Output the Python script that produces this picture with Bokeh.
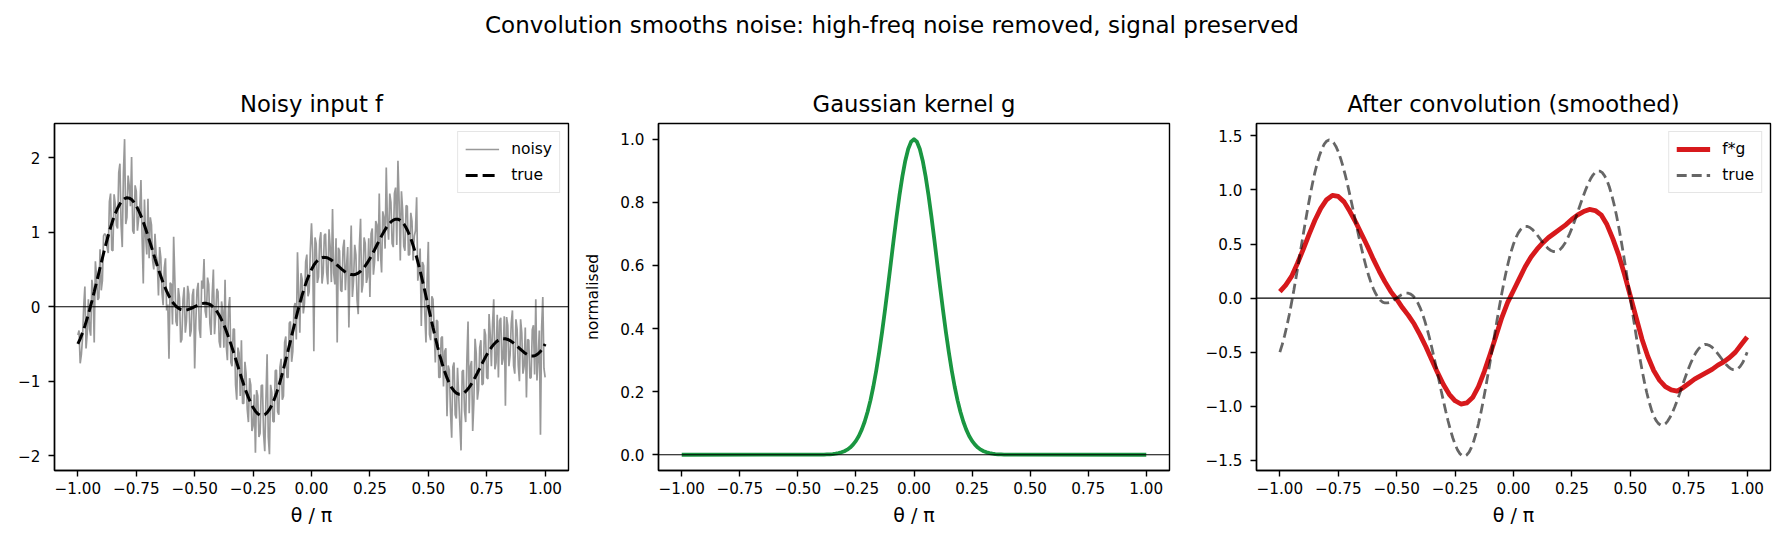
import numpy as np
from bokeh.plotting import figure
from bokeh.models import (Range1d, FixedTicker, Span, Legend, LegendItem, Div,
                          CustomJSTickFormatter)
from bokeh.layouts import row, column
from bokeh.embed import file_html
from bokeh.resources import INLINE

# ---- data (theta in units of pi) ----
theta = np.round(np.linspace(-1.0, 1.0, 201), 3)

true_signal = [
    -0.500, -0.431, -0.350, -0.258, -0.156, -0.044, 0.074, 0.199, 0.327, 0.458,
    0.588, 0.715, 0.839, 0.956, 1.065, 1.163, 1.249, 1.322, 1.380, 1.424,
    1.451, 1.463, 1.458, 1.438, 1.403, 1.354, 1.292, 1.219, 1.137, 1.047,
    0.951, 0.852, 0.750, 0.649, 0.550, 0.455, 0.366, 0.283, 0.209, 0.143,
    0.088, 0.042, 0.006, -0.020, -0.037, -0.045, -0.045, -0.040, -0.030, -0.015,
    0.000, 0.015, 0.030, 0.040, 0.045, 0.045, 0.037, 0.020, -0.006, -0.042,
    -0.088, -0.143, -0.209, -0.283, -0.366, -0.455, -0.550, -0.649, -0.750, -0.852,
    -0.951, -1.047, -1.137, -1.219, -1.292, -1.354, -1.403, -1.438, -1.458, -1.463,
    -1.451, -1.424, -1.380, -1.322, -1.249, -1.163, -1.065, -0.956, -0.839, -0.715,
    -0.588, -0.458, -0.327, -0.199, -0.074, 0.044, 0.156, 0.258, 0.350, 0.431,
    0.500, 0.557, 0.601, 0.633, 0.653, 0.663, 0.662, 0.653, 0.636, 0.614,
    0.588, 0.559, 0.530, 0.502, 0.477, 0.455, 0.440, 0.431, 0.429, 0.436,
    0.451, 0.475, 0.507, 0.547, 0.594, 0.646, 0.704, 0.765, 0.828, 0.891,
    0.951, 1.008, 1.060, 1.103, 1.138, 1.163, 1.175, 1.175, 1.160, 1.131,
    1.088, 1.030, 0.957, 0.871, 0.773, 0.663, 0.543, 0.414, 0.280, 0.141,
    0.000, -0.141, -0.280, -0.414, -0.543, -0.663, -0.773, -0.871, -0.957, -1.030,
    -1.088, -1.131, -1.160, -1.175, -1.175, -1.163, -1.138, -1.103, -1.060, -1.008,
    -0.951, -0.891, -0.828, -0.765, -0.704, -0.646, -0.594, -0.547, -0.507, -0.475,
    -0.451, -0.436, -0.429, -0.431, -0.440, -0.455, -0.477, -0.502, -0.530, -0.559,
    -0.588, -0.614, -0.636, -0.653, -0.662, -0.663, -0.653, -0.633, -0.601, -0.557,
    -0.500,
]

# noisy samples on the same grid as theta ...
noisy_on_grid = [
    -0.38, -0.76, -0.42, 0.27, -0.36, -0.30, 0.36, -0.48, 0.40, 0.12,
    0.22, 0.95, 0.96, 0.72, 1.52, 0.75, 1.38, 1.05, 1.92, 0.80,
    2.25, 1.20, 1.62, 2.01, 0.98, 1.55, 1.18, 1.70, 0.31, 0.95,
    1.45, 1.20, 0.62, 0.98, 0.60, 0.80, 0.19, 0.52, -0.05, -0.70,
    0.30, 0.94, -0.20, 0.25, -0.48, 0.10, -0.35, 0.28, -0.40, 0.15,
    -0.83, 0.22, -0.30, 0.35, 0.64, -0.15, 0.30, -0.38, 0.50, -0.10,
    0.20, -0.55, -0.05, 0.36, -0.72, 0.13, -0.80, -0.30, -1.25, -0.62,
    -0.45, -1.30, -0.90, -1.55, -1.05, -1.60, -1.96, -1.20, -1.70, -1.05,
    -1.94, -0.64, -1.98, -1.15, -1.55, -0.85, -1.45, -0.70, -1.20, -0.40,
    -0.95, -0.20, -0.60, 0.05, 0.73, -0.35, 0.37, 0.05, 0.70, 0.20,
    1.12, -0.60, 0.85, 0.40, 1.00, 0.45, 0.98, 0.30, 0.80, 1.31,
    0.30, -0.48, 0.75, 0.20, 0.90, 0.55, -0.28, 1.09, 0.35, 0.70,
    -0.10, 1.18, 0.30, 0.85, 0.40, 0.13, 1.05, 0.60, 1.10, 1.52,
    0.46, 1.20, 1.87, 0.90, 1.40, 0.80, 1.60, 1.96, 0.62, 1.30,
    0.75, 1.35, 0.70, 1.15, 0.95, 1.47, 0.50, -0.26, 0.55, -0.48,
    0.87, -0.45, 0.10, -0.75, -0.20, -0.95, -0.40, -0.60, -1.47, -0.85,
    -1.76, -0.75, -1.50, -1.20, -1.93, -0.85, -1.55, -0.20, -0.80, -1.67,
    -0.43, -1.25, -0.55, -1.05, -0.30, -0.95, -0.10, -0.80, 0.10, -0.75,
    -0.95, -0.15, -0.70, -1.33, -0.25, -0.65, -0.05, -0.90, -0.30, -1.00,
    -0.35, -0.80, -1.22, -0.45, -0.95, -0.25, 0.10, -0.70, -1.72, 0.13,
    -0.95,
]

# ... and the samples lying halfway between those grid points
noisy_between = [
    -0.32, -0.64, 0.00, -0.56, 0.10, -0.39, 0.24, 0.61, 0.09, 0.77,
    0.35, 0.98, 0.80, 1.41, 0.76, 1.51, 1.09, 1.80, 1.10, 1.79,
    1.11, 1.76, 1.35, 1.02, 1.63, 1.02, 1.31, 0.93, 1.44, 0.70,
    0.65, 1.10, 0.50, 0.70, 0.15, 0.66, 0.02, 0.65, 0.03, 0.32,
    -0.24, 0.37, -0.26, 0.12, -0.44, 0.26, -0.19, 0.17, -0.32, 0.24,
    -0.19, 0.32, -0.42, 0.24, -0.06, 0.39, -0.22, 0.16, -0.37, 0.24,
    -0.47, 0.07, -0.55, -0.52, -0.01, -0.75, -0.30, -1.05, -0.55, -1.20,
    -1.30, -0.74, -1.38, -0.96, -1.67, -1.18, -1.12, -1.75, -1.06, -1.71,
    -1.24, -1.75, -1.05, -1.54, -0.86, -1.41, -0.81, -1.25, -0.48, -0.95,
    -0.22, -0.74, -0.01, -0.44, 0.19, 0.45, -0.09, 0.60, 0.14, 0.77,
    0.73, 0.93, 0.32, 0.89, 0.31, 0.96, 0.46, 1.04, 0.33, 0.45,
    0.92, 0.79, 0.22, 0.79, 0.22, 0.80, 0.54, 0.13, 0.83, 0.09,
    0.81, 0.19, 0.93, 0.32, 0.92, 0.98, 0.43, 1.15, 0.61, 0.72,
    1.28, 0.78, 1.13, 1.52, 0.85, 1.52, 0.83, 1.42, 1.55, 0.81,
    1.36, 0.69, 1.26, 0.62, 1.02, 0.35, 0.78, 0.60, -0.09, 0.37,
    -0.37, 0.14, -0.30, -0.18, -0.95, -0.42, -1.07, -0.56, -0.79, -1.41,
    -0.81, -1.45, -0.82, -1.58, -0.87, -1.40, -0.72, -1.43, -0.73, -1.28,
    -0.62, -1.11, -0.45, -1.03, -0.38, -0.97, -0.37, -0.23, -0.84, -0.11,
    -0.19, -0.78, -0.13, -0.14, -0.80, -0.22, -0.79, -0.17, -0.79, -0.17,
    -0.90, -0.28, -0.44, -0.96, -0.31, -0.91, -0.99, -0.32, -0.28, -0.83,
]

# Gaussian kernel, sampled finely around its peak; zero elsewhere
kernel_theta = [-1.0] + list(np.round(np.linspace(-0.4, 0.4, 65), 4)) + [1.0]
kernel_half = [0.0003, 0.0005, 0.0009, 0.0014, 0.0022, 0.0034, 0.0051, 0.0076,
               0.0111, 0.0160, 0.0228, 0.0319, 0.0439, 0.0596, 0.0796, 0.1046,
               0.1353, 0.1724, 0.2163, 0.2671, 0.3247, 0.3886, 0.4578, 0.5311,
               0.6065, 0.6820, 0.7548, 0.8226, 0.8825, 0.9321, 0.9692, 0.9922]
kernel = [0.0] + kernel_half + [1.0] + kernel_half[::-1] + [0.0]

smooth_theta = np.round(np.linspace(-1.0, 1.0, 81), 4)
smoothed = [
    0.06, 0.12, 0.20, 0.32, 0.45, 0.59, 0.72, 0.83, 0.91, 0.95,
    0.94, 0.89, 0.80, 0.70, 0.59, 0.48, 0.36, 0.25, 0.15, 0.06,
    -0.01, -0.09, -0.16, -0.24, -0.34, -0.45, -0.57, -0.69, -0.80, -0.89,
    -0.95, -0.98, -0.97, -0.92, -0.82, -0.68, -0.52, -0.35, -0.18, -0.04,
    0.07, 0.18, 0.29, 0.38, 0.45, 0.51, 0.56, 0.60, 0.64, 0.68,
    0.73, 0.77, 0.80, 0.82, 0.81, 0.77, 0.68, 0.55, 0.40, 0.22,
    0.02, -0.18, -0.38, -0.54, -0.67, -0.76, -0.82, -0.85, -0.86, -0.83,
    -0.79, -0.75, -0.72, -0.69, -0.66, -0.62, -0.59, -0.55, -0.50, -0.43,
    -0.36,
]

x_ticks = [-1.0, -0.75, -0.5, -0.25, 0.0, 0.25, 0.5, 0.75, 1.0]

# interleave the two noisy sample sets into one trace
noisy_theta = np.round(np.linspace(-1.0, 1.0, 401), 4)
noisy_signal = np.empty(401)
noisy_signal[0::2] = noisy_on_grid
noisy_signal[1::2] = noisy_between

FONT = "DejaVu Sans"


def minus_formatter(decimals):
    return CustomJSTickFormatter(code=f"""
        const s = Math.abs(tick).toFixed({decimals});
        return (tick < -1e-9 ? '\\u2212' : '') + s;
    """)


def make_panel(title, width, left, right, y_range, y_ticks, y_dec, ylabel=None):
    p = figure(width=width, height=495, title=title,
               x_range=Range1d(-1.1, 1.1), y_range=Range1d(*y_range),
               output_backend="svg", toolbar_location=None,
               min_border_left=left, min_border_right=right,
               min_border_top=73, min_border_bottom=75)
    p.grid.visible = False
    p.background_fill_color = "white"
    p.border_fill_color = "white"
    p.outline_line_color = "black"
    p.outline_line_width = 1.4

    p.title.text_font = FONT
    p.title.text_font_size = "22.7px"
    p.title.text_font_style = "normal"
    p.title.text_color = "black"
    p.title.align = "center"
    p.title.standoff = 13

    for ax in (p.xaxis[0], p.yaxis[0]):
        ax.axis_line_color = "black"
        ax.axis_line_width = 1.4
        ax.major_tick_line_color = "black"
        ax.major_tick_line_width = 1.4
        ax.major_tick_in = 0
        ax.major_tick_out = 6
        ax.minor_tick_line_color = None
        ax.major_label_text_font = FONT
        ax.major_label_text_font_size = "15.2px"
        ax.major_label_text_color = "black"
        ax.major_label_standoff = 8
        ax.axis_label_text_font = FONT
        ax.axis_label_text_font_style = "normal"
        ax.axis_label_text_color = "black"

    p.xaxis.ticker = FixedTicker(ticks=x_ticks, minor_ticks=[])
    p.xaxis.formatter = minus_formatter(2)
    p.xaxis.major_label_standoff = 5
    p.xaxis.axis_label = "θ / π"
    p.xaxis.axis_label_text_font_size = "19px"
    p.xaxis.axis_label_standoff = 7

    p.yaxis.ticker = FixedTicker(ticks=y_ticks, minor_ticks=[])
    p.yaxis.formatter = minus_formatter(y_dec)
    if ylabel:
        p.yaxis.axis_label = ylabel
        p.yaxis.axis_label_text_font_size = "15.5px"
        p.yaxis.axis_label_standoff = 15
    return p


def style_legend(p, items):
    leg = Legend(items=items, location="top_right")
    leg.label_text_font = FONT
    leg.label_text_font_size = "15.5px"
    leg.label_text_color = "black"
    leg.glyph_width = 34
    leg.glyph_height = 20
    leg.label_height = 20
    leg.label_standoff = 12
    leg.spacing = 6
    leg.padding = 7
    leg.margin = 8
    leg.border_line_color = "#cccccc"
    leg.border_line_width = 1
    leg.background_fill_color = "white"
    leg.background_fill_alpha = 0.8
    p.add_layout(leg)


def zero_line():
    return Span(location=0, dimension="width", line_color="black",
                line_width=1.1)


# ---- panel 1: noisy input ----
p1 = make_panel("Noisy input f", 581, 54, 13, (-2.20, 2.46),
                [-2, -1, 0, 1, 2], 0)
r_noisy = p1.line(noisy_theta, noisy_signal, line_color="gray",
                  line_alpha=0.8, line_width=1.7)
r_true1 = p1.line(theta, true_signal, line_color="black", line_width=3.0,
                  line_dash="12 5")
p1.add_layout(zero_line())
style_legend(p1, [LegendItem(label="noisy", renderers=[r_noisy]),
                  LegendItem(label="true", renderers=[r_true1])])

# ---- panel 2: Gaussian kernel ----
p2 = make_panel("Gaussian kernel g", 610, 74, 22, (-0.05, 1.05),
                [0.0, 0.2, 0.4, 0.6, 0.8, 1.0], 1, ylabel="normalised")
p2.line(kernel_theta, kernel, line_color="#1a9641", line_width=3.8,
        line_join="round")
p2.add_layout(zero_line())

# ---- panel 3: result of convolution ----
p3 = make_panel("After convolution (smoothed)", 593, 65, 14, (-1.595, 1.615),
                [-1.5, -1.0, -0.5, 0.0, 0.5, 1.0, 1.5], 1)
r_fg = p3.line(smooth_theta, smoothed, line_color="#d7191c", line_width=4.8,
               line_join="round")
r_true3 = p3.line(theta, true_signal, line_color="black", line_alpha=0.6,
                  line_width=2.8, line_dash="10 5")
p3.add_layout(zero_line())
style_legend(p3, [LegendItem(label="f*g", renderers=[r_fg]),
                  LegendItem(label="true", renderers=[r_true3])])

heading = Div(text="Convolution smooths noise: high-freq noise removed, signal preserved",
              width=1784, height=50, margin=0,
              styles={"font-family": FONT, "font-size": "23px",
                      "text-align": "center", "line-height": "50px",
                      "color": "black", "white-space": "nowrap"})

layout = column(heading, row(p1, p2, p3, spacing=0), spacing=0)

open("out.html", "w").write(file_html(layout, INLINE))
